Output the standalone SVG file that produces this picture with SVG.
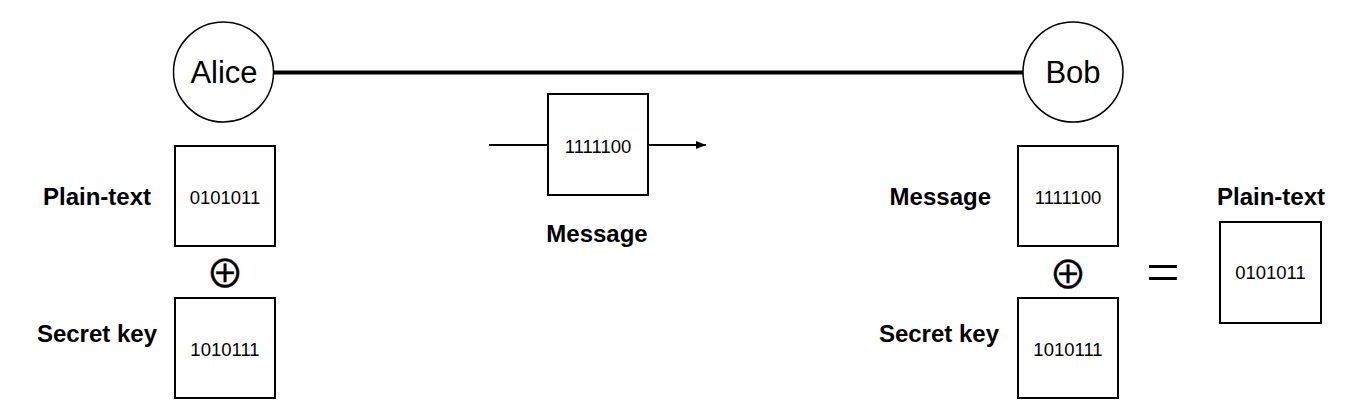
<svg xmlns="http://www.w3.org/2000/svg" width="1364" height="409" viewBox="0 0 1364 409">
<defs>
<style>
.box{fill:#fff;stroke:#000;stroke-width:2}
.circ{fill:#fff;stroke:#000;stroke-width:1.5}
.name{font-family:"Liberation Sans",Arial,sans-serif;font-size:31px;text-anchor:middle;fill:#000}
.lbl{font-family:"Liberation Sans",Arial,sans-serif;font-size:24px;font-weight:bold;fill:#000}
.bits{font-family:"Liberation Sans",Arial,sans-serif;font-size:18.5px;text-anchor:middle;fill:#000}
.sym{font-family:"Noto Sans CJK JP","DejaVu Sans",sans-serif;font-size:38px;text-anchor:middle;fill:#000;stroke:#000;stroke-width:0.4}
.wire{stroke:#000;fill:none}
</style>
<marker id="arr" viewBox="0 0 10 10" refX="10" refY="5" markerWidth="10" markerHeight="10" markerUnits="userSpaceOnUse" orient="auto">
<path d="M0,1 L10,5 L0,9 Z" fill="#000"/>
</marker>
</defs>
<rect width="1364" height="409" fill="#fff"/>
<g id="connectors">
<line class="wire" x1="274" y1="72.5" x2="1023" y2="72.5" stroke-width="4"/>
<line class="wire" x1="489" y1="145" x2="548" y2="145" stroke-width="2"/>
<line class="wire" x1="648" y1="145" x2="706" y2="145" stroke-width="2" marker-end="url(#arr)"/>
</g>
<g id="alice">
<circle class="circ" cx="223.5" cy="72" r="50"/>
<text class="name" x="224" y="83">Alice</text>
</g>
<g id="bob">
<circle class="circ" cx="1073" cy="72" r="50"/>
<text class="name" x="1073" y="83">Bob</text>
</g>
<g id="alice-plaintext">
<rect class="box" x="175" y="146" width="100" height="100"/>
<text class="bits" x="225" y="204">0101011</text>
<text class="lbl" x="151" y="205" text-anchor="end">Plain-text</text>
</g>
<g id="alice-xor">
<text class="sym" x="225" y="287">⊕</text>
</g>
<g id="alice-key">
<rect class="box" x="175" y="298" width="100" height="100"/>
<text class="bits" x="225" y="356">1010111</text>
<text class="lbl" x="157" y="342" text-anchor="end">Secret key</text>
</g>
<g id="message">
<rect class="box" x="548" y="94" width="100" height="101"/>
<text class="bits" x="598" y="153">1111100</text>
<text class="lbl" x="597" y="242" text-anchor="middle">Message</text>
</g>
<g id="bob-message">
<rect class="box" x="1018" y="146" width="100" height="100"/>
<text class="bits" x="1068" y="204">1111100</text>
<text class="lbl" x="991" y="205" text-anchor="end">Message</text>
</g>
<g id="bob-xor">
<text class="sym" x="1068" y="288">⊕</text>
</g>
<g id="bob-key">
<rect class="box" x="1018" y="298" width="100" height="100"/>
<text class="bits" x="1068" y="356">1010111</text>
<text class="lbl" x="999" y="342" text-anchor="end">Secret key</text>
</g>
<g id="equals">
<text x="1163" y="292" font-family="Liberation Serif, serif" font-size="60" text-anchor="middle" fill="#000">=</text>
</g>
<g id="bob-plaintext">
<rect class="box" x="1220" y="222" width="101" height="101"/>
<text class="bits" x="1270.5" y="279">0101011</text>
<text class="lbl" x="1271" y="205" text-anchor="middle">Plain-text</text>
</g>
</svg>
